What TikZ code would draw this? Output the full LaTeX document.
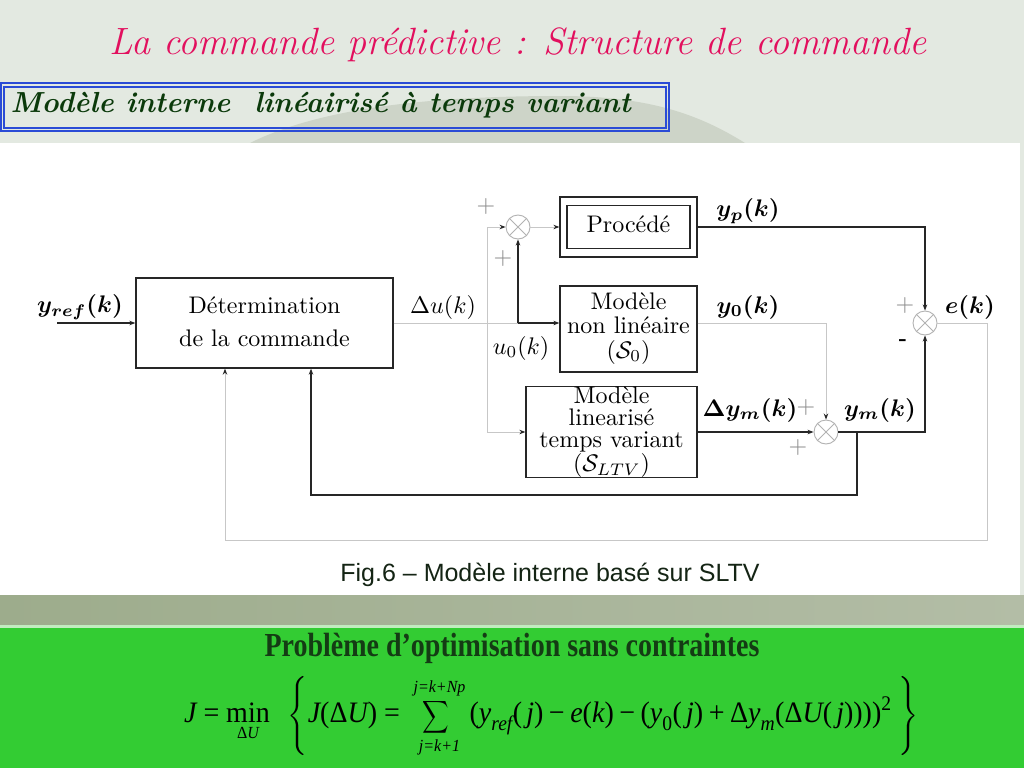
\documentclass[tikz,border=0pt]{standalone}
\usepackage{fontspec}
\usepackage{amsmath}
\usetikzlibrary{arrows.meta,calc}
\newfontfamily\tms{Liberation Serif}
\newfontfamily\arl{Liberation Sans}
\definecolor{bgc}{HTML}{E3E9E1}
\definecolor{moundc}{HTML}{CDD4C8}
\definecolor{titc}{HTML}{E2105E}
\definecolor{subc}{HTML}{0B3A0B}
\definecolor{boxblue}{HTML}{2A4BD6}
\definecolor{grn}{HTML}{33CC33}
\definecolor{bandl}{HTML}{9DAC8C}
\definecolor{bandr}{HTML}{B3BDA6}
\definecolor{probc}{HTML}{143C14}
\definecolor{capc}{HTML}{142414}
\newcommand\dg[2][1]{\scalebox{2.4}{\fontsize{10}{12}\selectfont\renewcommand\arraystretch{#1}\begin{tabular}{@{}c@{}}#2\end{tabular}}}
\newcommand\dl[1]{\scalebox{2.4}{\fontsize{10}{12}\selectfont #1}}
\newcommand\tu[1]{\textup{#1}}
\newcommand\ti[1]{\textit{#1}}
\newcommand\mylim[1]{\textup{\fontsize{16}{18}\selectfont #1}}
\newcommand\mymi{\mathbin{\tu{−}}}
\newcommand\mypl{\mathbin{\tu{+}}}
\newcommand\myeq{\mathrel{\tu{=}}}
\newcommand\mysum{\mathop{\scalebox{0.74}[0.86]{$\displaystyle\sum$}}}
\tikzset{
  blk/.style={draw=black!85, line width=1.3pt},
  gry/.style={draw=black!22, line width=1pt},
  arw/.style={-{Stealth[length=6pt,width=4.5pt,color=black!85]}},
  box/.style={draw=black!85, line width=1.3pt, inner sep=0pt, rectangle},
  summ/.style={circle, draw=black!30, line width=0.9pt, minimum size=24pt, inner sep=0pt},
  pm/.style={text=black!45, inner sep=0pt},
  lbl/.style={inner sep=0pt}
}
\begin{document}
\begin{tikzpicture}[x=1pt,y=-1pt]
\useasboundingbox (0,0) rectangle (1024,768);
% background
\fill[bgc] (0,0) rectangle (1024,768);
\fill[moundc] (250,143) .. controls (320,108) and (430,96) .. (560,96) .. controls (650,96) and (700,115) .. (745,143) -- cycle;
\fill[white] (0,143) rectangle (1020,595);
\shade[left color=bandl, right color=bandr] (0,595) rectangle (1024,625);
\fill[green!15!bgc] (0,625) rectangle (1024,628);
\fill[grn] (0,628) rectangle (1024,768);
% title
\node[font=\fontsize{38}{44}\selectfont\itshape, text=titc] (title) at (518,45) {La commande prédictive : Structure de commande};
\draw[boxblue, line width=1.3pt] (1,83) rectangle (669,131);
\draw[boxblue, line width=1.3pt] (4,87) rectangle (666,128);
\node[anchor=west, font=\fontsize{29}{32}\selectfont\bfseries\itshape, text=subc] (sub) at (7,105) {Modèle interne\ \ linéairisé à temps variant};
% boxes
\node[box, minimum width=257pt, minimum height=90pt] (det) at (264.5,323) {\dg[1.15]{Détermination\\de la commande}};
\node[box, minimum width=137pt, minimum height=60pt] (proc) at (628.5,227) {};
\node[box, minimum width=123pt, minimum height=43pt] (procin) at (628.5,227) {\dg{Procédé}};
\node[box, minimum width=137pt, minimum height=86pt] (nl) at (628.5,329) {\dg[0.78]{Modèle\\non linéaire\\$(\mathcal{S}_0)$}};
\node[box, minimum width=171pt, minimum height=86pt] (ltv) at (611.5,432) {\dg[0.7]{Modèle\\linearisé\\temps variant\\$(\mathcal{S}_{LTV})$}};
% summers
\node[summ] (s1) at (518,227) {};
\node[summ] (s2) at (826,432) {};
\node[summ] (s3) at (925,323) {};
\foreach \s in {s1,s2,s3}{
  \draw[black!30, line width=0.9pt] (\s.north east) -- (\s.south west) (\s.north west) -- (\s.south east);
}
% coordinates
\coordinate (yin) at (57,323);
\coordinate (j1) at (487,323);
\coordinate (u0) at (518,323);
\coordinate (fbA) at (857,432);
\coordinate (fbB) at (857,495);
\coordinate (fbC) at (311,495);
\coordinate (eA) at (987,323);
\coordinate (eB) at (987,540);
\coordinate (eC) at (225,540);
% connectors
\draw[blk, arw] (yin) -- (det.west);
\draw[gry] (det.east) -- (u0);
\draw[gry, arw] (j1) |- (s1.west);
\draw[gry, arw] (j1) |- (ltv.west);
\draw[blk, arw] (u0) -- (u0 -| nl.west);
\draw[blk, arw] (u0) -- (s1.south);
\draw[gry, arw] (s1.east) -- (proc.west);
\draw[blk, arw] (proc.east) -| (s3.north);
\draw[gry, arw] (nl.east |- s3) -| (s2.north);
\draw[blk, arw] (ltv.east) -- (s2.west);
\draw[blk, arw] (s2.east) -| (s3.south);
\draw[blk, arw] (fbA) -- (fbB) -- (fbC) -- (fbC |- det.south);
\draw[gry] (s3.east) -- (eA) -- (eB) -- (eC);
\draw[gry, arw] (eC) -- (eC |- det.south);
% labels
\node[lbl] (lyref) at (80,307) {\dl{$\boldsymbol{y_{ref}(k)}$}};
\node[lbl] (ldu) at (443,307) {\dl{$\Delta u(k)$}};
\node[lbl] (lu0) at (521,348) {\dl{$u_0(k)$}};
\node[lbl] (lyp) at (748,211) {\dl{$\boldsymbol{y_p(k)}$}};
\node[lbl] (ly0) at (748,307) {\dl{$\boldsymbol{y_0(k)}$}};
\node[lbl] (lek) at (970,307) {\dl{$\boldsymbol{e(k)}$}};
\node[lbl] (ldym) at (750,410) {\dl{$\boldsymbol{\Delta y_m(k)}$}};
\node[lbl] (lym) at (880,410) {\dl{$\boldsymbol{y_m(k)}$}};
\node[pm] (p1) at (486,206) {\dl{$+$}};
\node[pm] (p2) at (503,258) {\dl{$+$}};
\node[pm] (p3) at (905,305) {\dl{$+$}};
\node[pm] (p4) at (806,407) {\dl{$+$}};
\node[pm] (p5) at (798,447) {\dl{$+$}};
\node[lbl, font=\fontsize{22}{24}\selectfont\bfseries] (m1) at (903,343) {-};
% caption
\node[font=\arl\fontsize{25}{28}\selectfont, text=capc] (cap) at (550,575) {Fig.6 – Modèle interne basé sur SLTV};
% optimisation problem
\node[font=\tms\bfseries\fontsize{28}{32}\selectfont, text=probc] (prob) at (512,648) {\scalebox{1}[1.2]{Problème d’optimisation sans contraintes}};
\node[font=\tms\fontsize{28}{32}\selectfont, anchor=west, inner sep=0pt] (frm) at (184,717) {\scalebox{1}[1.06]{$\displaystyle\ti{J}\myeq\mathop{\tu{min}}\limits_{\mylim{Δ\itshape U}}\;\;\left\{\ti{J}\tu{(Δ}\ti{U}\tu{)}\myeq\;\mysum\limits_{\mylim{\itshape j=k+1}}^{\mylim{\itshape j=k+Np}}\tu{(}\ti{y}_{\ti{ref}}\tu{(}\,\ti{j}\tu{)}\mymi\ti{e}\tu{(}\ti{k}\tu{)}\mymi\tu{(}\ti{y}_{\tu{0}}\tu{(}\,\ti{j}\tu{)}\mypl\tu{Δ}\ti{y}_{\ti{m}}\tu{(Δ}\ti{U}\tu{(}\,\ti{j}\tu{))))}^{\tu{2}}\;\right\}$}};
\end{tikzpicture}
\end{document}
